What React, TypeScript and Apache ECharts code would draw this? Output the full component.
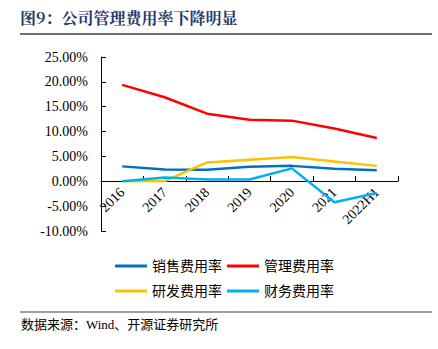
import React, { useEffect, useRef } from "react";
import * as echarts from "echarts";

const categories = ["2016", "2017", "2018", "2019", "2020", "2021", "2022H1"];
const salesRate = [3.0, 2.35, 2.3, 2.9, 3.1, 2.5, 2.2];
const adminRate = [19.4, 16.9, 13.6, 12.4, 12.2, 10.6, 8.7];
const rdRate = [0.0, 0.05, 3.8, 4.35, 4.9, 4.0, 3.1];
const financeRate = [0.0, 0.75, 0.35, 0.35, 2.6, -4.2, -2.35];
const seriesNames = ["销售费用率", "管理费用率", "研发费用率", "财务费用率"];
const colors = ["#0070C0", "#FF0000", "#FFC000", "#00B0F0"];

const serif = '"Liberation Serif", "Noto Sans CJK SC", serif';

export default function App() {
  const ref = useRef<HTMLDivElement>(null);
  useEffect(() => {
    const chart = echarts.init(ref.current!, undefined, { renderer: "svg" });
    const data = [salesRate, adminRate, rdRate, financeRate];
    chart.setOption({
      animation: false,
      backgroundColor: "#ffffff",
      color: colors,
      grid: { left: 101, right: 40, top: 57, bottom: 118, containLabel: false },
      xAxis: {
        type: "category",
        data: categories,
        boundaryGap: true,
        position: "bottom",
        offset: -50,
        axisLine: { onZero: false, lineStyle: { color: "#000", width: 1 } },
        axisTick: { show: true, inside: true, length: 5, lineStyle: { color: "#000" } },
        axisLabel: {
          rotate: 45,
          interval: 0,
          margin: 9,
          color: "#000",
          fontSize: 14,
          fontFamily: serif,
        },
        splitLine: { show: false },
      },
      yAxis: {
        type: "value",
        min: -10,
        max: 25,
        interval: 5,
        axisLine: { show: true, lineStyle: { color: "#000", width: 1 } },
        axisTick: { show: true, inside: true, length: 5, lineStyle: { color: "#000" } },
        axisLabel: {
          margin: 13,
          color: "#000",
          fontSize: 14,
          fontFamily: serif,
          formatter: (v: number) => v.toFixed(2) + "%",
        },
        splitLine: { show: false },
      },
      legend: [
        {
          data: [seriesNames[0], seriesNames[1]],
          left: 110,
          top: 254,
          icon: "rect",
          itemWidth: 32,
          itemHeight: 3,
          itemGap: 5,
          textStyle: { fontSize: 14, color: "#000", fontFamily: serif },
        },
        {
          data: [seriesNames[2], seriesNames[3]],
          left: 110,
          top: 279,
          icon: "rect",
          itemWidth: 32,
          itemHeight: 3,
          itemGap: 5,
          textStyle: { fontSize: 14, color: "#000", fontFamily: serif },
        },
      ],
      series: seriesNames.map((name, i) => ({
        name,
        type: "line",
        data: data[i],
        symbol: "none",
        lineStyle: { width: 2.5, color: colors[i] },
        itemStyle: { color: colors[i] },
      })),
      graphic: [
        {
          type: "text",
          left: 20,
          top: 9,
          style: {
            text: "图9：公司管理费用率下降明显",
            font: 'bold 16px "Noto Serif CJK SC", "Noto Sans CJK SC", serif',
            fill: "#1F3A6E",
          },
        },
        {
          type: "line",
          shape: { x1: 20, y1: 34, x2: 432, y2: 34 },
          style: { stroke: "#404040", lineWidth: 1.5 },
        },
        {
          type: "line",
          shape: { x1: 20, y1: 312, x2: 432, y2: 312 },
          style: { stroke: "#808080", lineWidth: 1.5 },
        },
        {
          type: "text",
          left: 21,
          top: 318,
          style: {
            text: "数据来源：Wind、开源证券研究所",
            font: '13px "Liberation Serif", "Noto Sans CJK SC", serif',
            fill: "#000",
          },
        },
      ],
    });
    return () => chart.dispose();
  }, []);
  return <div ref={ref} style={{ width: 438, height: 349, position: "absolute", left: 0, top: 0 }} />;
}
